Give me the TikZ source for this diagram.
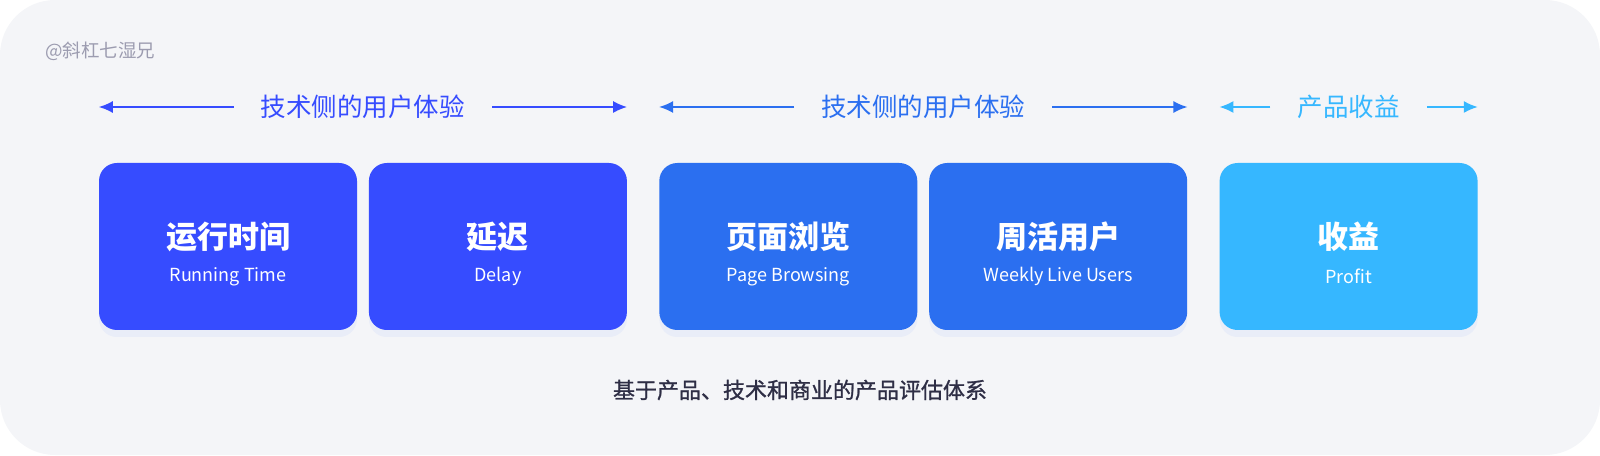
\documentclass[tikz,border=0pt]{standalone}
\usepackage{fontspec}
\setmainfont{Noto Sans CJK SC}
\newfontfamily\captionfont[FakeBold=1.1]{Noto Sans CJK SC}
\usepackage{tikz}
\usetikzlibrary{positioning, arrows.meta, calc, shadows}

\definecolor{pagebg}{HTML}{F4F5F8}
\definecolor{shadowtint}{HTML}{E9EDF8}
\definecolor{runblue}{HTML}{364CFF}
\definecolor{userblue}{HTML}{2B6FF0}
\definecolor{profitblue}{HTML}{36B7FF}
\definecolor{marktext}{HTML}{9C9CB0}
\definecolor{captext}{HTML}{2E2E45}

\tikzset{
    metricbox/.style={rounded corners=18pt, minimum width=258pt, minimum height=167pt, inner sep=0pt,
        drop shadow={shadow xshift=0pt, shadow yshift=-7pt, fill=shadowtint, opacity=1}},
    metrictitle/.style={text=white, font=\fontsize{31}{35}\selectfont\bfseries},
    metricsub/.style={text=white, font=\fontsize{18}{21}\selectfont},
    headtext/.style={font=\fontsize{25.5}{29}\selectfont, inner xsep=27pt, inner ysep=0pt},
    headarrow/.style={line width=1.6pt, -{Latex[length=14pt, width=12pt]}},
}

\begin{document}
\begin{tikzpicture}[x=1pt, y=1pt]
    \useasboundingbox (0,0) rectangle (1600,455);

    % background
    \fill[pagebg, rounded corners=55pt] (0,0) rectangle (1600,455);

    % watermark
    \node[anchor=west, inner sep=0pt, text=marktext, font=\fontsize{18.5}{21}\selectfont] (mark) at (45,404) {@斜杠七湿兄};

    % metric boxes
    \node[metricbox, fill=runblue] (run) at (228,208.5) {};
    \node[metricbox, fill=runblue, right=11.5pt of run] (delay) {};
    \node[metricbox, fill=userblue, right=32pt of delay] (page) {};
    \node[metricbox, fill=userblue, right=11.5pt of page] (weekly) {};
    \node[metricbox, fill=profitblue, right=32pt of weekly] (profit) {};

    \foreach \bx/\title/\sub in {
        run/运行时间/Running Time,
        delay/延迟/Delay,
        page/页面浏览/Page Browsing,
        weekly/周活用户/Weekly Live Users,
        profit/收益/Profit}
    {
        \node[metrictitle] (\bx-title) at ([yshift=9.5pt]\bx.center) {\title};
        \node[metricsub] (\bx-sub) at ([yshift=-30pt]\bx.center) {\sub};
    }

    % group headers
    \foreach \hd/\from/\to/\co/\txt in {
        techa/run/delay/runblue/技术侧的用户体验,
        techb/page/weekly/userblue/技术侧的用户体验,
        money/profit/profit/profitblue/产品收益}
    {
        \node[headtext, text=\co] (\hd) at ($(\from.west)!0.5!(\to.east) + (0,139.5)$) {\txt};
        \draw[headarrow, \co] (\hd.west) -- (\from.west |- \hd);
        \draw[headarrow, \co] (\hd.east) -- (\to.east |- \hd);
    }

    % caption
    \node[text=captext, font=\captionfont\fontsize{22}{26}\selectfont] (caption) at (800,65) {基于产品、技术和商业的产品评估体系};
\end{tikzpicture}
\end{document}
